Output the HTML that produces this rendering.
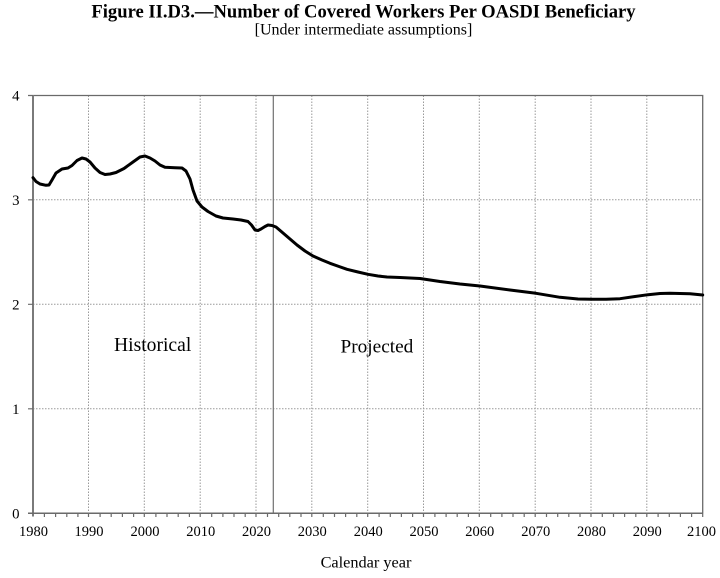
<!DOCTYPE html>
<html>
<head>
<meta charset="utf-8">
<style>
  html, body { margin: 0; padding: 0; background: #ffffff; }
  body { width: 720px; height: 578px; overflow: hidden; }
  svg { display: block; }
  text { font-family: "Liberation Serif", "Times New Roman", serif; fill: #000; }
</style>
</head>
<body>
<svg width="720" height="578" viewBox="0 0 720 578" xmlns="http://www.w3.org/2000/svg">
  <text x="363.5" y="17.3" text-anchor="middle" font-size="18.6" font-weight="bold">Figure II.D3.—Number of Covered Workers Per OASDI Beneficiary</text>
  <text x="363.5" y="34.5" text-anchor="middle" font-size="16">[Under intermediate assumptions]</text>

  <path fill="none" stroke="#9a9a9a" stroke-width="1" stroke-dasharray="1.5,1.5"
    d="M33 408.8H702.7M33 304.3H702.7M33 199.8H702.7
       M88.5 95.5V513.3M144.3 95.5V513.3M200.2 95.5V513.3M256 95.5V513.3M311.8 95.5V513.3M367.7 95.5V513.3
       M423.5 95.5V513.3M479.3 95.5V513.3M535.2 95.5V513.3M591 95.5V513.3M646.8 95.5V513.3"/>

  <line x1="273.3" y1="95.5" x2="273.3" y2="513.3" stroke="#707070" stroke-width="1.2"/>

  <path fill="none" stroke="#6a6a6a" stroke-width="1.3" d="M33 95.5H702.7V513.3"/>
  <line x1="33" y1="95" x2="33" y2="516.5" stroke="#7a7a7a" stroke-width="2"/>
  <line x1="28" y1="513.3" x2="702.7" y2="513.3" stroke="#6a6a6a" stroke-width="1.5"/>

  <path fill="none" stroke="#6a6a6a" stroke-width="1.2"
    d="M28 95.5H33M28 199.8H33M28 304.3H33M28 408.8H33
       M44.4 513v4M55.6 513v4M66.8 513v4M77.9 513v4M88.5 513v4M100.1 513v4M111.2 513v4M122.4 513v4M133.6 513v4M144.3 513v4
       M155.9 513v4M167 513v4M178.2 513v4M189.4 513v4M200.2 513v4M211.7 513v4M222.9 513v4M234 513v4M245.2 513v4M256 513v4
       M267.5 513v4M278.7 513v4M289.8 513v4M301 513v4M311.8 513v4M323.3 513v4M334.5 513v4M345.6 513v4M356.8 513v4M367.7 513v4
       M379.1 513v4M390.3 513v4M401.4 513v4M412.6 513v4M423.5 513v4M434.9 513v4M446.1 513v4M457.2 513v4M468.4 513v4M479.3 513v4
       M490.7 513v4M501.9 513v4M513 513v4M524.2 513v4M535.2 513v4M546.5 513v4M557.7 513v4M568.8 513v4M580 513v4M591 513v4
       M602.3 513v4M613.5 513v4M624.6 513v4M635.8 513v4M646.8 513v4M658.1 513v4M669.3 513v4M680.4 513v4M691.6 513v4M702.7 513v4"/>

  <g font-size="14.8" text-anchor="end">
    <text x="19.5" y="100.7">4</text>
    <text x="19.5" y="205">3</text>
    <text x="19.5" y="309.5">2</text>
    <text x="19.5" y="414">1</text>
    <text x="19.5" y="518.5">0</text>
  </g>

  <g font-size="14.5" text-anchor="middle">
    <text x="33.5" y="536">1980</text>
    <text x="89" y="536">1990</text>
    <text x="145" y="536">2000</text>
    <text x="200.7" y="536">2010</text>
    <text x="256.5" y="536">2020</text>
    <text x="312.3" y="536">2030</text>
    <text x="368.2" y="536">2040</text>
    <text x="424" y="536">2050</text>
    <text x="479.8" y="536">2060</text>
    <text x="535.7" y="536">2070</text>
    <text x="591.5" y="536">2080</text>
    <text x="647.3" y="536">2090</text>
    <text x="701.5" y="536">2100</text>
  </g>

  <text x="366" y="567.3" text-anchor="middle" font-size="16.3">Calendar year</text>

  <text x="114" y="351" font-size="19.6">Historical</text>
  <text x="340.5" y="352.3" font-size="19.3">Projected</text>

  <polyline fill="none" stroke="#000" stroke-width="3" stroke-linejoin="round" stroke-linecap="round"
    points="33,177.7 36,181.5 40,184 46,185.3 49,185 52,180 56,173 62,169 68,168 72,165.5 77,160.5 82,158 86,159 90,162 95,168 100,172.5 105,174.5 110,174 116,172.5 124,168.5 133,162 140,157 145,156 150,158 155,161 160,165 165,167.3 175,167.7 182,168 186,171 190,179 193,190 197,201 202,207 208,211.5 216,216 223,218 233,219 241,220 248,221.5 251.5,225 255,230 258,230.5 261,229 265,226.5 268,225 272,225.5 276,227 283,233 290,239 297,245 305,251 313,256 322,260 330,263.3 339,266.5 347,269.3 358,272 368,274.3 378,276 387,277 400,277.5 420,278.5 440,281.5 460,284 480,286 510,290 536,293.3 560,297.3 578,299 592,299.3 606,299.2 620,298.7 635,296.5 648,294.7 660,293.5 670,293.3 690,293.7 702.7,295"/>
</svg>
</body>
</html>
